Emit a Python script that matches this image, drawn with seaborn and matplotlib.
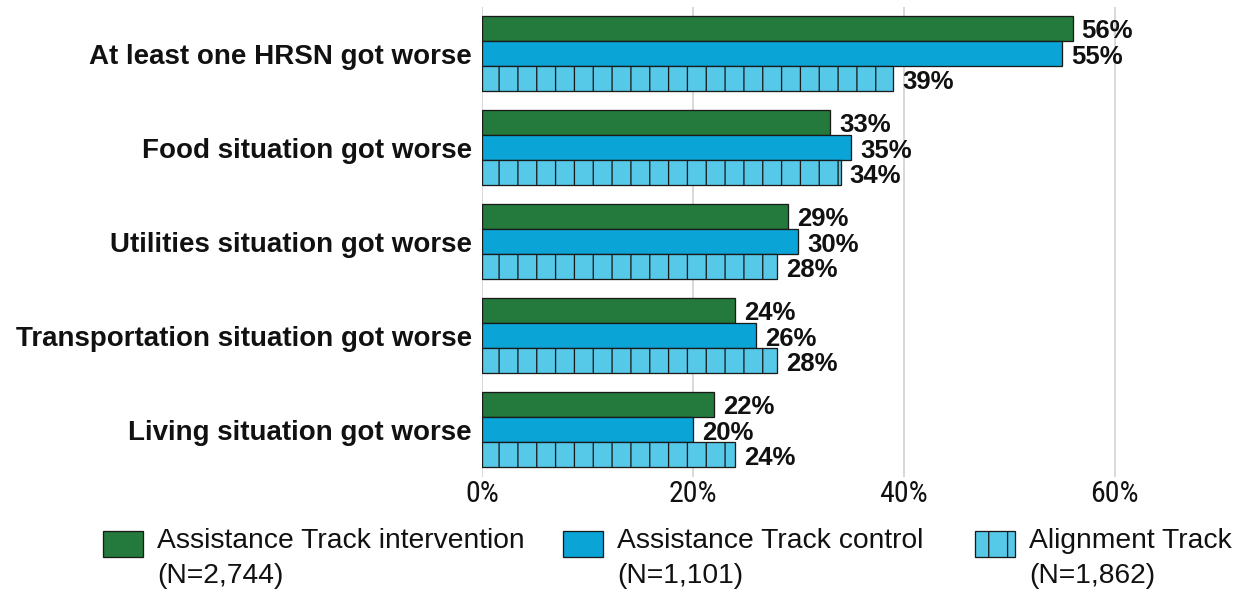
import matplotlib
matplotlib.use("Agg")
import matplotlib.pyplot as plt
import matplotlib.patches as mpatches
from matplotlib.legend_handler import HandlerPatch
from matplotlib.ticker import PercentFormatter
import pandas as pd
import seaborn as sns

categories = [
    "At least one HRSN got worse",
    "Food situation got worse",
    "Utilities situation got worse",
    "Transportation situation got worse",
    "Living situation got worse",
]
groups = [
    "Assistance Track intervention\n(N=2,744)",
    "Assistance Track control\n(N=1,101)",
    "Alignment Track\n(N=1,862)",
]
intervention = [56, 33, 29, 24, 22]
control = [55, 35, 30, 26, 20]
alignment = [39, 34, 28, 28, 24]
x_ticks = [0, 20, 40, 60]

colors = ["#237A3C", "#0AA5D6", "#57C9E8"]
edge = "#1a1a1a"
text_color = "#111111"

DPI = 113
W, H = 1241, 589


def pt(px):
    """Convert a size in pixels to points at the figure dpi."""
    return px * 72 / DPI


rows = []
for g, vals in zip(groups, [intervention, control, alignment]):
    for c, v in zip(categories, vals):
        rows.append({"category": c, "group": g, "value": v})
df = pd.DataFrame(rows)

sns.set_theme(style="white")
plt.rcParams["font.family"] = ["Liberation Sans", "DejaVu Sans"]
plt.rcParams["hatch.linewidth"] = pt(1.3)
plt.rcParams["hatch.color"] = edge

fig = plt.figure(figsize=(W / DPI, H / DPI), dpi=DPI)
left, right, top, bottom = 482, 1157, 6.5, 476.5
ax = fig.add_axes([left / W, 1 - bottom / H, (right - left) / W, (bottom - top) / H])

sns.barplot(data=df, x="value", y="category", hue="group", order=categories,
            hue_order=groups, palette=colors, saturation=1, edgecolor=edge,
            linewidth=pt(1.3), width=0.8, ax=ax, legend=False, zorder=3)

for bar in ax.containers[2]:
    bar.set_hatch("|")

for cont in ax.containers:
    anns = ax.bar_label(cont, labels=[f"{int(v)}%" for v in cont.datavalues],
                        padding=pt(9), fontsize=pt(25.7), fontweight="bold",
                        color=text_color)
    for a in anns:
        a.xyann = (pt(9), -pt(3))

ax.set_xlim(0, 64)
ax.set_xticks(x_ticks)
ax.xaxis.set_major_formatter(PercentFormatter(decimals=0))
ax.grid(axis="x", color="#d9d9d9", linewidth=pt(2), zorder=0)
ax.set_axisbelow(True)
for s in ax.spines.values():
    s.set_visible(False)
ax.set_xlabel("")
ax.set_ylabel("")
ax.tick_params(axis="x", length=0, pad=pt(3), colors=text_color)
ax.tick_params(axis="y", length=0, labelsize=pt(27.8), pad=pt(10), colors=text_color)
for lbl in ax.get_xticklabels():
    lbl.set_family(["Roboto Condensed", "Roboto", "Liberation Sans"])
    lbl.set_fontsize(pt(30))
for lbl in ax.get_yticklabels():
    lbl.set_fontweight("bold")


def raised_patch(legend, orig_handle, xdescent, ydescent, width, height, fontsize):
    # keep the swatch level with the first line of a two-line label
    return mpatches.Rectangle((-xdescent, -ydescent + pt(15)), width, height)


legend_x = [103, 563, 975]
for i in range(3):
    h = mpatches.Patch(facecolor=colors[i], edgecolor=edge, linewidth=pt(1.3),
                       hatch="|" if i == 2 else None)
    leg = fig.legend([h], [groups[i]], loc="lower left",
                     bbox_to_anchor=(legend_x[i] / W, 0.0), frameon=False,
                     fontsize=pt(28.3), handlelength=1.42, handleheight=1.07,
                     handletextpad=0.5, borderpad=0, borderaxespad=0.0,
                     handler_map={mpatches.Patch: HandlerPatch(patch_func=raised_patch)})
    for t in leg.get_texts():
        t.set_color(text_color)
        t.set_linespacing(1.45)

fig.savefig("out.png", dpi=DPI)
